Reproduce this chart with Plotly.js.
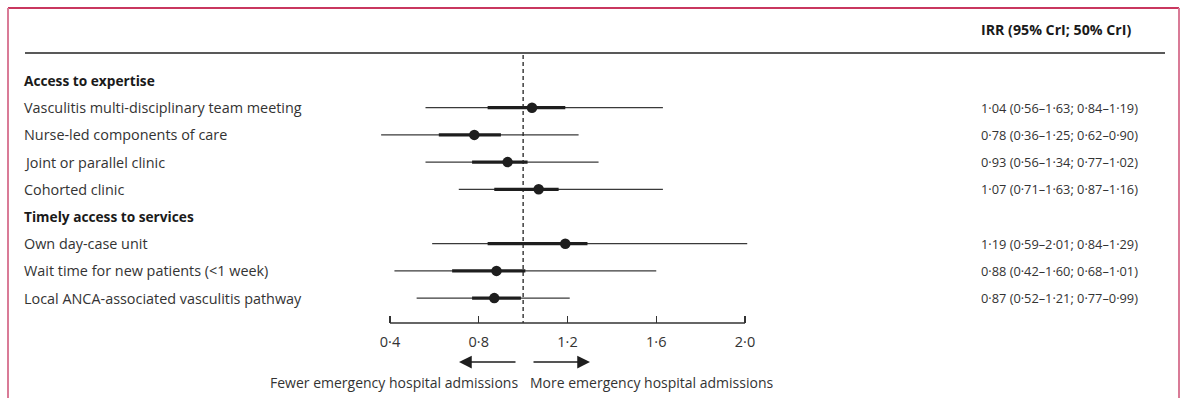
<!DOCTYPE html>
<html>
<head>
<meta charset="utf-8">
<script src="https://cdn.plot.ly/plotly-3.0.1.min.js"></script>
<style>html,body{margin:0;padding:0;background:#fff;}#chart{width:1182px;height:398px;}</style>
</head>
<body>
<div id="chart"></div>
<script>
// ---- data ----
const groups = ["Access to expertise", "Timely access to services"];
const labels = [
  "Vasculitis multi-disciplinary team meeting",
  "Nurse-led components of care",
  "Joint or parallel clinic",
  "Cohorted clinic",
  "Own day-case unit",
  "Wait time for new patients (<1 week)",
  "Local ANCA-associated vasculitis pathway"
];
const groupOf = [0, 0, 0, 0, 1, 1, 1];
const irr  = [1.04, 0.78, 0.93, 1.07, 1.19, 0.88, 0.87];
const lo95 = [0.56, 0.36, 0.56, 0.71, 0.59, 0.42, 0.52];
const hi95 = [1.63, 1.25, 1.34, 1.63, 2.01, 1.60, 1.21];
const lo50 = [0.84, 0.62, 0.77, 0.87, 0.84, 0.68, 0.77];
const hi50 = [1.19, 0.90, 1.02, 1.16, 1.29, 1.01, 0.99];
const tickVals = [0.4, 0.8, 1.2, 1.6, 2.0];
const tickText = ["0·4", "0·8", "1·2", "1·6", "2·0"];
const headerText = "IRR (95% CrI; 50% CrI)";
const leftArrowText = "Fewer emergency hospital admissions";
const rightArrowText = "More emergency hospital admissions";

// ---- layout helpers ----
const W = 1182, H = 398;
const FONT = "Open Sans";
const px = v => v / W;          // pixel x -> paper
const py = v => (H - v) / H;    // pixel y -> paper

// build rows (headings + items)
const rows = [];
const itemRow = [];
groups.forEach((g, gi) => {
  rows.push({text: g, heading: true});
  labels.forEach((l, i) => {
    if (groupOf[i] === gi) { itemRow[i] = rows.length; rows.push({text: l, heading: false}); }
  });
});
const fmt = v => v.toFixed(2).replace(".", "·");

// x scale: 0.4 -> 390px, 2.0 -> 745px, full width plot
const x0px = 390, x1px = 745;
const k = (x1px - x0px) / (2.0 - 0.4);
const xr = [0.4 - x0px / k, 0.4 + (W - x0px) / k];
const xv = p => 0.4 + (p - x0px) / k;
// y scale: row i at rowTop + rowStep*i px
const rowTop = 80.5, rowStep = 27.2;
const yr = [(H - rowTop) / rowStep, (0 - rowTop) / rowStep];
const axisPx = 323;

const ci95x = [], ci95y = [], ci50x = [], ci50y = [];
labels.forEach((l, i) => {
  ci95x.push(lo95[i], hi95[i], null); ci95y.push(itemRow[i], itemRow[i], null);
  ci50x.push(lo50[i], hi50[i], null); ci50y.push(itemRow[i], itemRow[i], null);
});

const traces = [
  {x: ci95x, y: ci95y, mode: "lines", line: {color: "#3a3a3a", width: 1.3}, hoverinfo: "skip", showlegend: false},
  {x: ci50x, y: ci50y, mode: "lines", line: {color: "#1e1e1e", width: 3.2}, hoverinfo: "skip", showlegend: false},
  {x: irr, y: itemRow, mode: "markers", marker: {color: "#1e1e1e", size: 10.5}, hoverinfo: "skip", showlegend: false}
];

const annotations = [];
rows.forEach((r, i) => {
  annotations.push({xref: "paper", yref: "y", x: px(22), y: i, text: r.heading ? "<b>" + r.text + "</b>" : r.text,
    showarrow: false, xanchor: "left", yanchor: "middle",
    font: {family: FONT, size: r.heading ? 13.7 : 14.4, color: r.heading ? "#1a1a1a" : "#333"}});
});
labels.forEach((l, i) => {
  annotations.push({xref: "paper", yref: "y", x: px(979), y: itemRow[i],
    text: fmt(irr[i]) + " (" + fmt(lo95[i]) + "–" + fmt(hi95[i]) + "; " + fmt(lo50[i]) + "–" + fmt(hi50[i]) + ")",
    showarrow: false, xanchor: "left", yanchor: "middle", font: {family: FONT, size: 12.8, color: "#333"}});
});
annotations.push({xref: "paper", yref: "paper", x: px(979), y: py(30), text: "<b>" + headerText + "</b>",
  showarrow: false, xanchor: "left", yanchor: "middle", font: {family: FONT, size: 14.2, color: "#1a1a1a"}});
// arrows
annotations.push({xref: "x", yref: "paper", axref: "x", ayref: "paper",
  x: xv(459), y: py(362), ax: xv(517), ay: py(362),
  showarrow: true, arrowhead: 2, arrowsize: 1.7, arrowwidth: 1.5, arrowcolor: "#1e1e1e", text: ""});
annotations.push({xref: "x", yref: "paper", axref: "x", ayref: "paper",
  x: xv(590), y: py(362), ax: xv(532), ay: py(362),
  showarrow: true, arrowhead: 2, arrowsize: 1.7, arrowwidth: 1.5, arrowcolor: "#1e1e1e", text: ""});
annotations.push({xref: "x", yref: "paper", x: xv(520), y: py(382), text: leftArrowText,
  showarrow: false, xanchor: "right", yanchor: "middle", font: {family: FONT, size: 14, color: "#333"}});
annotations.push({xref: "x", yref: "paper", x: xv(528), y: py(382), text: rightArrowText,
  showarrow: false, xanchor: "left", yanchor: "middle", font: {family: FONT, size: 14, color: "#333"}});

const shapes = [
  // frame
  {type: "line", xref: "paper", yref: "paper", x0: px(8), x1: px(1179), y0: py(8), y1: py(8), line: {color: "#c9375f", width: 2}},
  {type: "line", xref: "paper", yref: "paper", x0: px(8), x1: px(8), y0: py(8), y1: 0, line: {color: "#d97b97", width: 2}},
  {type: "line", xref: "paper", yref: "paper", x0: px(1179), x1: px(1179), y0: py(8), y1: 0, line: {color: "#d97b97", width: 2}},
  // header rule
  {type: "line", xref: "paper", yref: "paper", x0: px(25), x1: px(1165), y0: py(53), y1: py(53), line: {color: "#222", width: 1.3}},
  // reference line at IRR = 1
  {type: "line", xref: "x", yref: "paper", x0: 1, x1: 1, y0: py(55), y1: py(axisPx), line: {color: "#222", width: 1.3, dash: "4px,3px"}},
  // axis line
  {type: "line", xref: "x", yref: "paper", x0: 0.4, x1: 2.0, y0: py(axisPx), y1: py(axisPx), line: {color: "#333", width: 1.3}}
];

const layout = {
  width: W, height: H,
  margin: {l: 0, r: 0, t: 0, b: 0, pad: 0},
  paper_bgcolor: "#fff", plot_bgcolor: "#fff",
  showlegend: false,
  xaxis: {range: xr, domain: [0, 1], anchor: "free", position: py(axisPx), showline: false, showgrid: false, zeroline: false,
    tickmode: "array", tickvals: tickVals, ticktext: tickText, ticks: "inside", ticklen: 7, tickwidth: 1.3, tickcolor: "#333",
    ticklabelstandoff: 8, tickfont: {family: FONT, size: 14.5, color: "#333"}, fixedrange: true},
  yaxis: {type: "category", categoryarray: rows.map(r => r.text), categoryorder: "array", range: yr, visible: false, fixedrange: true},
  annotations: annotations,
  shapes: shapes
};

// category y axis: traces use the row names
traces.forEach(t => { t.y = t.y.map(v => v === null ? null : rows[v].text); });

Plotly.newPlot("chart", traces, layout, {displayModeBar: false, staticPlot: true});
</script>
</body>
</html>
